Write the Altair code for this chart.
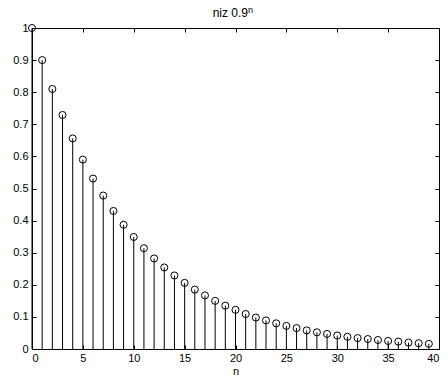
import altair as alt
import pandas as pd

n_vals = list(range(40))
y_vals = [1.0, 0.9, 0.81, 0.729, 0.656, 0.590, 0.531, 0.478, 0.430, 0.387,
          0.349, 0.314, 0.282, 0.254, 0.229, 0.206, 0.185, 0.167, 0.150, 0.135,
          0.122, 0.109, 0.098, 0.089, 0.080, 0.072, 0.065, 0.058, 0.052, 0.047,
          0.042, 0.038, 0.034, 0.031, 0.028, 0.025, 0.023, 0.020, 0.018, 0.016]
x_ticks = [0, 5, 10, 15, 20, 25, 30, 35, 40]
y_ticks = [0, 0.1, 0.2, 0.3, 0.4, 0.5, 0.6, 0.7, 0.8, 0.9, 1.0]
title_main = ["niz 0.9"]
title_sup = ["n"]

df = pd.DataFrame({"n": n_vals, "y": y_vals})

W, H = 407, 321
FONT = "Liberation Sans"

xs = alt.Scale(domain=[0, 40], nice=False)
ys = alt.Scale(domain=[0, 1], nice=False)

base = alt.Chart(df)

lab_x = alt.Axis(orient="bottom", values=x_ticks, ticks=False, domain=False, grid=False,
                 labelFont=FONT, labelFontSize=11, labelColor="black", labelPadding=3,
                 title="n", titleFont=FONT, titleFontSize=11, titleFontWeight="normal",
                 titleColor="black", titlePadding=2)
lab_y = alt.Axis(orient="left", values=y_ticks, ticks=False, domain=False, grid=False,
                 labelFont=FONT, labelFontSize=11, labelColor="black", labelPadding=4,
                 title=None, labelExpr="datum.value == 0 ? '0' : datum.value == 1 ? '1' : format(datum.value, '.1f')")

stems = base.mark_rule(color="black", strokeWidth=1).encode(
    x=alt.X("n:Q", scale=xs, axis=lab_x),
    y=alt.Y("y:Q", scale=ys, axis=lab_y),
    y2=alt.datum(0),
)

def tick_axis(orient, values, offset):
    return alt.Axis(orient=orient, values=values, labels=False, domain=False, grid=False,
                    ticks=True, tickSize=4, tickColor="black", title=None, offset=offset)

pts = base.mark_point(shape="circle", filled=False, color="black", size=50, strokeWidth=1, opacity=1).encode(
    x=alt.X("n:Q", scale=xs, axis=tick_axis("top", x_ticks, -H)),
    y=alt.Y("y:Q", scale=ys, axis=tick_axis("right", y_ticks, -W)),
)

pts2 = base.mark_point(shape="circle", filled=False, color="black", size=50, strokeWidth=1, opacity=0).encode(
    x=alt.X("n:Q", scale=xs, axis=tick_axis("bottom", x_ticks, -H)),
    y=alt.Y("y:Q", scale=ys, axis=tick_axis("left", y_ticks, -W)),
)

t_main = alt.Chart(pd.DataFrame({"t": title_main})).mark_text(
    font=FONT, fontSize=12, color="black", align="right", baseline="alphabetic"
).encode(text="t:N", x=alt.value(216), y=alt.value(-11))

t_sup = alt.Chart(pd.DataFrame({"t": title_sup})).mark_text(
    font=FONT, fontSize=9, color="black", align="left", baseline="alphabetic"
).encode(text="t:N", x=alt.value(216), y=alt.value(-15))

chart = alt.layer(stems, pts, pts2, t_main, t_sup).resolve_axis(x="independent", y="independent").properties(
    width=W, height=H,
    padding={"left": 32, "top": 28, "right": 7, "bottom": 34},
    autosize=alt.AutoSizeParams(type="none"),
    background="white",
).configure_view(stroke="black", strokeWidth=1)

chart.save("out.html", embed_options={"renderer": "svg", "actions": False})
